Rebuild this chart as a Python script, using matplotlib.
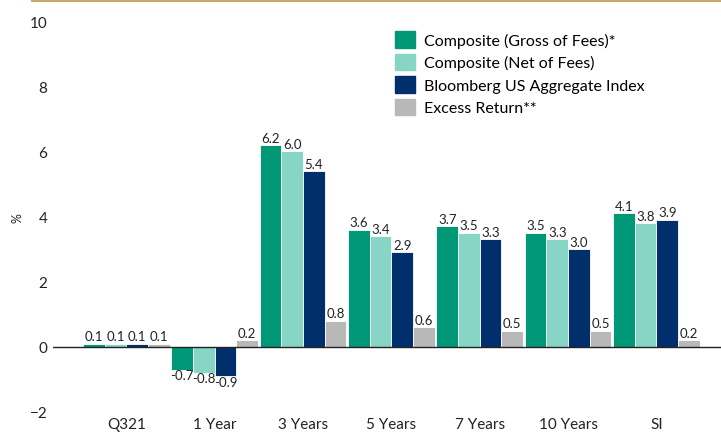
import matplotlib.pyplot as plt
import numpy as np
from matplotlib.patches import FancyBboxPatch
from matplotlib.lines import Line2D

plt.rcParams['font.family'] = ['Lato', 'DejaVu Sans']

# data
periods = ["Q321", "1 Year", "3 Years", "5 Years", "7 Years", "10 Years", "SI"]
gross = [0.1, -0.7, 6.2, 3.6, 3.7, 3.5, 4.1]
net = [0.1, -0.8, 6.0, 3.4, 3.5, 3.3, 3.8]
bench = [0.1, -0.9, 5.4, 2.9, 3.3, 3.0, 3.9]
excess = [0.1, 0.2, 0.8, 0.6, 0.5, 0.5, 0.2]
series_names = ["Composite (Gross of Fees)*", "Composite (Net of Fees)",
                "Bloomberg US Aggregate Index", "Excess Return**"]
colors = ["#009877", "#86D5C5", "#002F6C", "#B8B8B8"]

fig = plt.figure(figsize=(7.21, 4.35), dpi=100)
ax = fig.add_axes([53 / 721, 1 - 413 / 435, 1 - 53 / 721, (413 - 22) / 435])

x = np.arange(len(periods))
w = 0.245
for i, (vals, c) in enumerate(zip([gross, net, bench, excess], colors)):
    pos = x + (i - 1.5) * w
    ax.bar(pos, vals, width=w, color=c, edgecolor="white", linewidth=0.6, zorder=2)
    for p, v in zip(pos, vals):
        if v >= 0:
            ax.text(p, v + 0.04, f"{v:.1f}", ha="center", va="bottom", fontsize=9.5, color="#222222")
        else:
            ax.text(p, v + 0.02, f"{v:.1f}", ha="center", va="top", fontsize=9.5, color="#222222")

ax.axhline(0, color="#222222", linewidth=1.0, zorder=3)
ax.set_xlim(-0.83, 6.73)
ax.set_ylim(-2, 10)
ax.set_yticks([-2, 0, 2, 4, 6, 8, 10])
ax.set_yticklabels(["\u22122", "0", "2", "4", "6", "8", "10"])
ax.set_xticks(x)
ax.set_xticklabels(periods)
ax.tick_params(axis="both", length=0, labelsize=11, colors="#222222")
ax.tick_params(axis="y", pad=4)
ax.tick_params(axis="x", pad=3.5)
for s in ax.spines.values():
    s.set_visible(False)
fig.text(17 / 721, 1 - 218 / 435, "%", rotation=90, fontsize=9, color="#222222",
         ha="center", va="center")

# top gold rule
fig.add_artist(Line2D([32 / 721, 1], [1 - 2 / 435, 1 - 2 / 435], color="#C8A96E", linewidth=1.5))

# legend
handles = [FancyBboxPatch((0, 0), 1, 1, boxstyle="round,pad=0,rounding_size=0.2", color=c) for c in colors]
ax.legend(handles, series_names, loc="upper left", bbox_to_anchor=(0.503, 0.99),
          frameon=False, fontsize=11.5, handlelength=1.2, handleheight=1.2,
          handletextpad=0.6, labelspacing=0.37, borderaxespad=0)

fig.savefig("out.png", dpi=100)
